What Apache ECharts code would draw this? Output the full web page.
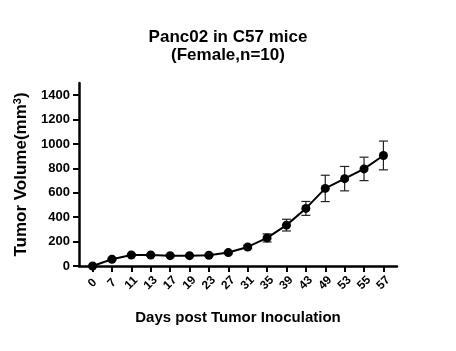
<!DOCTYPE html>
<html>
<head>
<meta charset="utf-8">
<script src="https://cdn.jsdelivr.net/npm/echarts@6/dist/echarts.min.js"></script>
<style>
  html, body { margin: 0; padding: 0; background: #fff; }
  #chart { width: 456px; height: 351px; }
</style>
</head>
<body>
<div id="chart"></div>
<script>
// days post inoculation, mean tumor volume and error (mm3)
const days = ['0', '7', '11', '13', '17', '19', '23', '27', '31', '35', '39', '43', '49', '53', '55', '57'];
const volume = [0, 55, 90, 90, 85, 85, 88, 110, 156, 230, 335, 472, 636, 716, 796, 906];
const volErr = [4, 7, 8, 8, 7, 7, 8, 10, 14, 33, 48, 57, 108, 100, 96, 118];
const yTicks = [0, 200, 400, 600, 800, 1000, 1200, 1400];

const font = 'Arial, "Liberation Sans", sans-serif';
const idx = days.map((d, i) => i);

const chart = echarts.init(document.getElementById('chart'));

chart.setOption({
  animation: false,
  title: {
    text: 'Panc02 in C57 mice\n(Female,n=10)',
    left: 'center',
    top: 23,
    padding: [5, 5, 5, 11],
    textStyle: { fontFamily: font, fontSize: 17, fontWeight: 'bold', color: '#000', lineHeight: 18 }
  },
  grid: { left: 79, right: 59, top: 83, bottom: 85, outerBoundsMode: 'none' },
  xAxis: {
    type: 'value',
    min: -0.7,
    max: 15.7,
    splitLine: { show: false },
    axisLine: { onZero: false, lineStyle: { color: '#000', width: 2.5 } },
    axisTick: { customValues: idx, length: 6, lineStyle: { color: '#000', width: 2 } },
    axisLabel: {
      customValues: idx,
      formatter: v => days[Math.round(v)],
      rotate: 45,
      align: 'center',
      verticalAlign: 'middle',
      margin: 17,
      color: '#000',
      fontFamily: font,
      fontSize: 12,
      fontWeight: 'bold'
    },
    name: 'Days post Tumor Inoculation',
    nameLocation: 'middle',
    nameGap: 44,
    nameTextStyle: { fontFamily: font, fontSize: 15, fontWeight: 'bold', color: '#000' }
  },
  yAxis: {
    type: 'value',
    min: 0,
    max: 1500,
    splitLine: { show: false },
    axisLine: { show: true, onZero: false, lineStyle: { color: '#000', width: 2.5 } },
    axisTick: { show: true, customValues: yTicks, length: 6, lineStyle: { color: '#000', width: 2 } },
    axisLabel: {
      customValues: yTicks,
      formatter: v => String(v),
      margin: 9,
      color: '#000',
      fontFamily: font,
      fontSize: 13,
      fontWeight: 'bold'
    },
    name: 'Tumor Volume(mm{sup|3})',
    nameLocation: 'middle',
    nameGap: 38,
    nameTextStyle: {
      fontFamily: font, fontSize: 17, fontWeight: 'bold', color: '#000',
      rich: { sup: { fontFamily: font, fontSize: 11, fontWeight: 'bold', color: '#000', verticalAlign: 'top', padding: [0, 0, 8, 0] } }
    }
  },
  series: [
    {
      type: 'custom',
      z: 1,
      data: idx.map(i => [i, volume[i] - volErr[i], volume[i] + volErr[i]]),
      renderItem: (params, api) => {
        const lo = api.coord([api.value(0), api.value(1)]);
        const hi = api.coord([api.value(0), api.value(2)]);
        const w = 4.5;
        const st = { stroke: '#222', lineWidth: 1.2 };
        return {
          type: 'group',
          children: [
            { type: 'line', shape: { x1: lo[0], y1: lo[1], x2: hi[0], y2: hi[1] }, style: st },
            { type: 'line', shape: { x1: lo[0] - w, y1: lo[1], x2: lo[0] + w, y2: lo[1] }, style: st },
            { type: 'line', shape: { x1: hi[0] - w, y1: hi[1], x2: hi[0] + w, y2: hi[1] }, style: st }
          ]
        };
      }
    },
    {
      type: 'line',
      z: 2,
      data: idx.map(i => [i, volume[i]]),
      symbol: 'circle',
      symbolSize: 9,
      lineStyle: { color: '#000', width: 2 },
      itemStyle: { color: '#000' }
    }
  ]
});
</script>
</body>
</html>
